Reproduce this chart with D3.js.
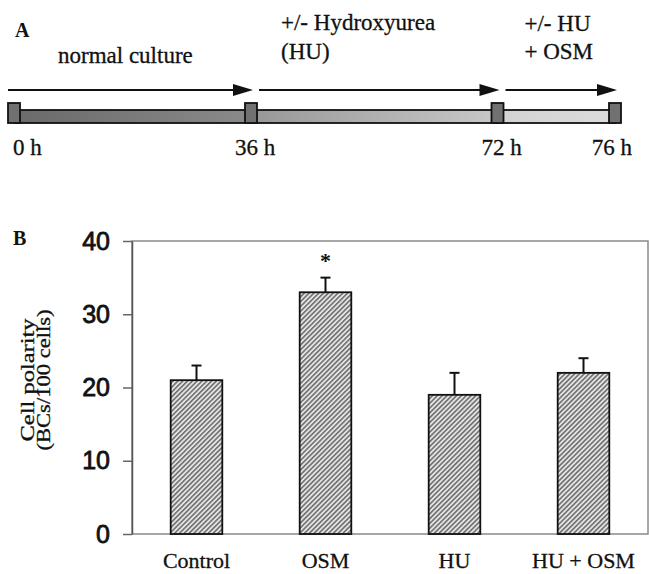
<!DOCTYPE html>
<html>
<head>
<meta charset="utf-8">
<script src="https://cdn.jsdelivr.net/npm/d3@7"></script>
<style>
  html, body { margin: 0; padding: 0; background: #fff; }
  svg { display: block; }
</style>
</head>
<body>
<svg id="figure" width="649" height="574"></svg>
<script>
// Panel A: timeline of the protocol (hours)
const timePoints = [0, 36, 72, 76];
const timeLabels = ['0 h', '36 h', '72 h', '76 h'];
const periodLabels = [['normal culture'], ['+/- Hydroxyurea', '(HU)'], ['+/- HU', '+ OSM']];

// Panel B: cell polarity
const groups = ['Control', 'OSM', 'HU', 'HU + OSM'];
const polarity = [21, 33, 19, 22];
const polarityErr = [2, 2, 3, 2];
const significant = [false, true, false, false];
const yTicks = [0, 10, 20, 30, 40];

const serif = '"Liberation Serif", "Times New Roman", serif';
const sans = '"Liberation Sans", Arial, sans-serif';

const svg = d3.select('#figure');
const defs = svg.append('defs');

// ---------- Panel A ----------
// the schematic is not drawn to scale, so the time scale is piecewise
const tScale = d3.scaleLinear().domain(timePoints).range([14, 251, 497.5, 615]);

const segFills = [['#6a6a6a', '#8a8a8a'], ['#989898', '#c8c8c8'], ['#d2d2d2', '#dcdcdc']];
segFills.forEach((c, i) => {
    const g = defs.append('linearGradient').attr('id', 'seg' + i);
    g.append('stop').attr('offset', '0%').attr('stop-color', c[0]);
    g.append('stop').attr('offset', '100%').attr('stop-color', c[1]);
});

const panelA = svg.append('g');

panelA.append('text')
    .attr('x', 15).attr('y', 37)
    .attr('font-family', serif).attr('font-weight', 'bold').attr('font-size', 20)
    .attr('fill', '#111')
    .text('A');

const periods = d3.pairs(timePoints);

// timeline bar
panelA.selectAll('.seg')
    .data(periods)
    .join('rect')
    .attr('x', (d) => tScale(d[0]))
    .attr('width', (d) => tScale(d[1]) - tScale(d[0]))
    .attr('y', 110).attr('height', 13)
    .attr('fill', (d, i) => `url(#seg${i})`)
    .attr('stroke', '#111').attr('stroke-width', 1.8);

// markers at each time point
panelA.selectAll('.marker')
    .data(timePoints)
    .join('rect')
    .attr('x', (d) => tScale(d) - 6)
    .attr('width', 12)
    .attr('y', 103).attr('height', 20)
    .attr('fill', '#717171')
    .attr('stroke', '#111').attr('stroke-width', 1.8);

// arrows
const arrows = panelA.selectAll('.arrow')
    .data(periods)
    .join('g');
arrows.append('line')
    .attr('x1', (d, i) => tScale(d[0]) + (i === 0 ? -6 : 8))
    .attr('x2', (d) => tScale(d[1]) - 16)
    .attr('y1', 90).attr('y2', 90)
    .attr('stroke', '#111').attr('stroke-width', 2);
arrows.append('path')
    .attr('d', (d) => {
        const tip = tScale(d[1]) + 2;
        return `M${tip},90 L${tip - 20},84 L${tip - 20},96 Z`;
    })
    .attr('fill', '#111');

// period descriptions
const periodOffset = [44, 30, 27];
const periodBaseline = [[63], [30, 59], [31, 59]];
periodLabels.forEach((lines, i) => {
    lines.forEach((s, j) => {
        panelA.append('text')
            .attr('x', tScale(timePoints[i]) + periodOffset[i])
            .attr('y', periodBaseline[i][j])
            .attr('font-family', serif).attr('font-size', 23)
            .attr('fill', '#111').attr('stroke', '#111').attr('stroke-width', 0.3)
            .text(s);
    });
});

// time labels
panelA.selectAll('.tlabel')
    .data(timePoints)
    .join('text')
    .attr('x', (d, i) => tScale(d) + (i === 0 ? -1 : i === timePoints.length - 1 ? 17 : 4))
    .attr('y', 155)
    .attr('text-anchor', (d, i) => (i === 0 ? 'start' : i === timePoints.length - 1 ? 'end' : 'middle'))
    .attr('font-family', serif).attr('font-size', 23)
    .attr('fill', '#111').attr('stroke', '#111').attr('stroke-width', 0.3)
    .text((d, i) => timeLabels[i]);

// ---------- Panel B ----------
const plot = { left: 132, right: 648, top: 241, bottom: 534 };

const hatch = defs.append('pattern')
    .attr('id', 'hatch')
    .attr('patternUnits', 'userSpaceOnUse')
    .attr('width', 3.4).attr('height', 3.4)
    .attr('patternTransform', 'rotate(45)');
hatch.append('rect').attr('width', 3.4).attr('height', 3.4).attr('fill', '#e4e4e4');
hatch.append('line')
    .attr('x1', 0.8).attr('y1', 0).attr('x2', 0.8).attr('y2', 3.4)
    .attr('stroke', '#5e5e5e').attr('stroke-width', 1.4);

const x = d3.scaleBand()
    .domain(groups)
    .range([plot.left, plot.right])
    .paddingInner(0.6)
    .paddingOuter(0.3);

const y = d3.scaleLinear().domain([0, 40]).range([plot.bottom, plot.top]);

svg.append('text')
    .attr('x', 13).attr('y', 245)
    .attr('font-family', serif).attr('font-weight', 'bold').attr('font-size', 20)
    .attr('fill', '#111')
    .text('B');

// frame
svg.append('rect')
    .attr('x', plot.left).attr('y', plot.top)
    .attr('width', plot.right - plot.left).attr('height', plot.bottom - plot.top)
    .attr('fill', 'none').attr('stroke', '#8a8a8a').attr('stroke-width', 1.5);

const yAxis = svg.append('g')
    .attr('transform', `translate(${plot.left},0)`)
    .call(d3.axisLeft(y).tickValues(yTicks).tickSize(9).tickSizeOuter(0).tickPadding(13));
yAxis.select('.domain').attr('stroke', '#555').attr('stroke-width', 1.5);
yAxis.selectAll('.tick line').attr('stroke', '#666').attr('stroke-width', 1.5);
yAxis.selectAll('.tick text')
    .attr('font-family', sans).attr('font-size', 25)
    .attr('fill', '#111').attr('stroke', '#111').attr('stroke-width', 0.8);

// bars
svg.selectAll('.bar')
    .data(groups)
    .join('rect')
    .attr('x', (d) => x(d))
    .attr('width', x.bandwidth())
    .attr('y', (d, i) => y(polarity[i]))
    .attr('height', (d, i) => y(0) - y(polarity[i]))
    .attr('fill', 'url(#hatch)')
    .attr('stroke', '#111').attr('stroke-width', 1.8);

// error bars (upper half only)
const err = svg.selectAll('.err')
    .data(groups)
    .join('g')
    .attr('stroke', '#111').attr('stroke-width', 2);
err.append('line')
    .attr('x1', (d) => x(d) + x.bandwidth() / 2)
    .attr('x2', (d) => x(d) + x.bandwidth() / 2)
    .attr('y1', (d, i) => y(polarity[i]))
    .attr('y2', (d, i) => y(polarity[i] + polarityErr[i]));
err.append('line')
    .attr('x1', (d) => x(d) + x.bandwidth() / 2 - 5)
    .attr('x2', (d) => x(d) + x.bandwidth() / 2 + 5)
    .attr('y1', (d, i) => y(polarity[i] + polarityErr[i]))
    .attr('y2', (d, i) => y(polarity[i] + polarityErr[i]));

// significance
svg.selectAll('.star')
    .data(groups.filter((d, i) => significant[i]))
    .join('text')
    .attr('x', (d) => x(d) + x.bandwidth() / 2)
    .attr('y', (d) => {
        const i = groups.indexOf(d);
        return y(polarity[i] + polarityErr[i]) - 10;
    })
    .attr('text-anchor', 'middle')
    .attr('font-family', serif).attr('font-weight', 'bold').attr('font-size', 22)
    .attr('fill', '#111')
    .text('*');

// category labels
svg.selectAll('.xlabel')
    .data(groups)
    .join('text')
    .attr('x', (d) => x(d) + x.bandwidth() / 2)
    .attr('y', 568)
    .attr('text-anchor', 'middle')
    .attr('font-family', serif).attr('font-size', 22)
    .attr('fill', '#111').attr('stroke', '#111').attr('stroke-width', 0.3)
    .text((d) => d);

// y label, two lines
const yLabel = [['Cell polarity', 33.5, 123], ['(BCs/100 cells)', 49.5, 141]];
yLabel.forEach(([s, bx, len]) => {
    svg.append('text')
        .attr('transform', `translate(${bx},380) rotate(-90)`)
        .attr('text-anchor', 'middle')
        .attr('font-family', serif).attr('font-size', 18)
        .attr('textLength', len).attr('lengthAdjust', 'spacingAndGlyphs')
        .attr('fill', '#111').attr('stroke', '#111').attr('stroke-width', 0.3)
        .text(s);
});
</script>
</body>
</html>
